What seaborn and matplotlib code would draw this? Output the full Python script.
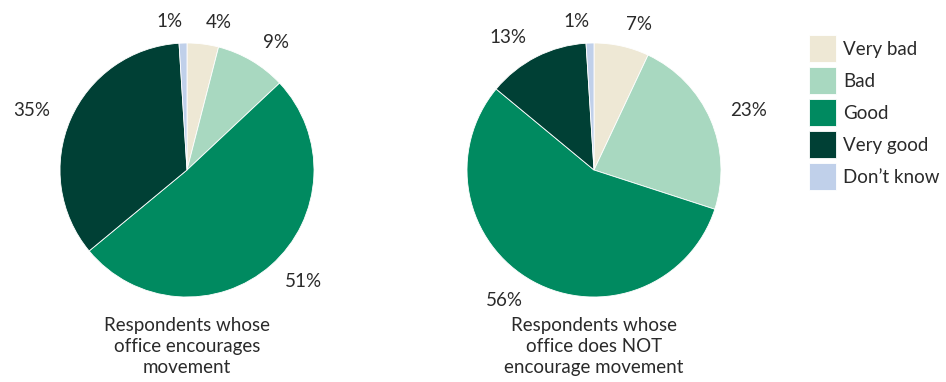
import matplotlib
matplotlib.use("Agg")
import matplotlib.pyplot as plt
import seaborn as sns

categories = ["Very bad", "Bad", "Good", "Very good", "Don\u2019t know"]
encourages = [4, 9, 51, 35, 1]
not_encourages = [7, 23, 56, 13, 1]
titles = ["Respondents whose\noffice encourages\nmovement",
          "Respondents whose\noffice does NOT\nencourage movement"]
colors = ["#EEE8D5", "#A8D8C0", "#008A60", "#004035", "#C0D0EA"]

sns.set_theme(style="white")
plt.rcParams["font.family"] = ["Lato", "DejaVu Sans"]
palette = sns.color_palette(colors)

W, H = 946, 382
fig = plt.figure(figsize=(W / 100, H / 100), dpi=100)

R = 127          # pie radius in pixels
half = 172       # half axes size in pixels
k = half / R
text_color = "#2a2a2a"
fs = 13.5

centers = [(187, 212), (594, 212)]
axes = []
for (cx, cy), values, title in zip(centers, [encourages, not_encourages], titles):
    ax = fig.add_axes([(cx - half) / W, (cy - half) / H, 2 * half / W, 2 * half / H])
    wedges, labels = ax.pie(
        values, colors=palette, startangle=90, counterclock=False,
        labels=[f"{v}%" for v in values], labeldistance=1.17,
        wedgeprops=dict(edgecolor="white", linewidth=0.6),
        textprops=dict(fontsize=fs, color=text_color),
    )
    for t in labels:
        t.set_clip_on(True)
    ax.set_xlim(-k, k)
    ax.set_ylim(-k, k)
    ax.set_aspect("equal")
    ax.axis("off")
    fig.text(cx / W, (H - 317) / H, title, ha="center", va="top",
             fontsize=fs, color=text_color, linespacing=1.28)
    axes.append((ax, wedges))

fig.legend(axes[0][1], categories, loc="upper left",
           bbox_to_anchor=(809 / W, 1 - 35 / H), bbox_transform=fig.transFigure,
           frameon=False, fontsize=fs, handlelength=1.44, handleheight=1.84,
           labelspacing=0.27, handletextpad=0.37, borderpad=0, borderaxespad=0,
           labelcolor=text_color)

fig.savefig("out.png", dpi=100)
